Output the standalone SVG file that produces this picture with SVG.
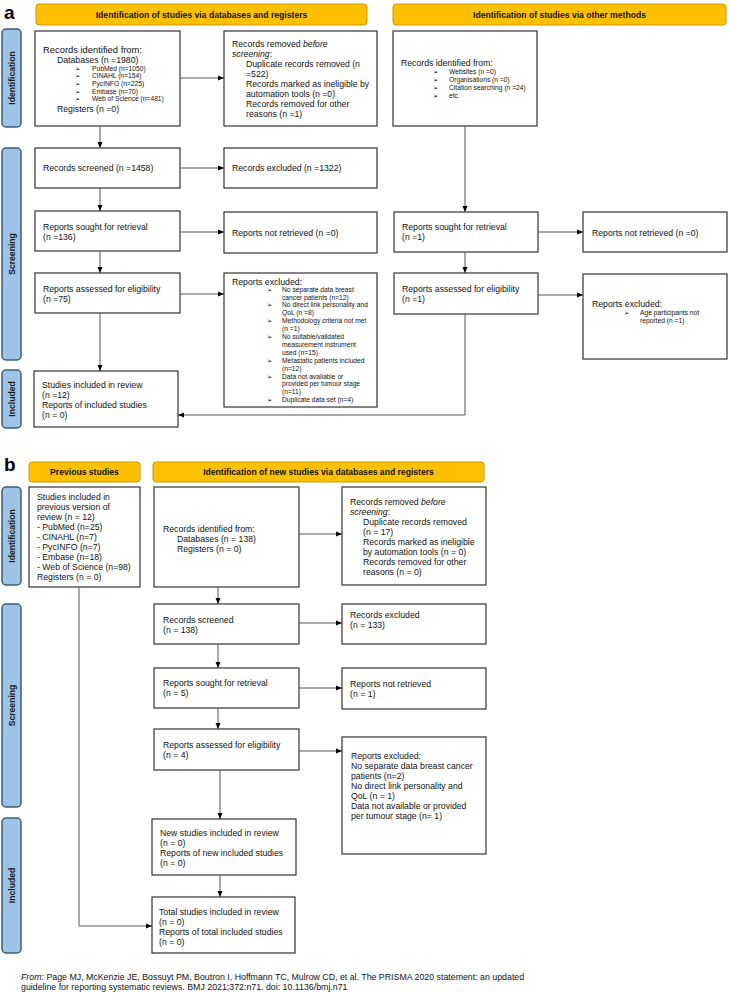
<svg xmlns="http://www.w3.org/2000/svg" width="729" height="993" viewBox="0 0 729 993">
<style>
.bg{fill:#fff}
.box{fill:#fff;stroke:#333;stroke-width:1.2}
.hdr{fill:#FFC000;stroke:#C99A00;stroke-width:1}
.side{fill:#9DC3E6;stroke:#3E5C7A;stroke-width:1.5}
text{font-family:"Liberation Sans",Arial,sans-serif;font-size:8.7px;fill:#111}
.s{font-size:6.7px}
.b{font-family:"DejaVu Sans","Liberation Sans",sans-serif;font-size:6.5px}
.h{font-weight:bold;font-size:8.6px;text-anchor:middle}
.v{font-weight:bold;font-size:8.6px;text-anchor:middle;fill:#1a1a1a}
.big{font-weight:bold;font-size:19px;fill:#000}
.i{font-style:italic}
.f{font-size:8.8px}
.c{stroke:#555;stroke-width:1;fill:none}
</style>
<defs>
<marker id="ar" markerWidth="6" markerHeight="6" refX="6" refY="3" orient="auto" markerUnits="userSpaceOnUse">
<path d="M0,0.5 L6,3 L0,5.5 z" fill="#000"/>
</marker>
</defs>
<rect class="bg" x="0" y="0" width="729" height="993"/>

<!-- Part a -->
<text class="big" x="4" y="19">a</text>
<g id="hdr-a1"><rect class="hdr" x="36" y="4" width="331" height="21" rx="3"/><text class="h" x="201.5" y="17.5">Identification of studies via databases and registers</text></g>
<g id="hdr-a2"><rect class="hdr" x="393" y="4" width="333" height="21" rx="3"/><text class="h" x="559.5" y="17.5">Identification of studies via other methods</text></g>

<g id="side-a-ident"><rect class="side" x="2" y="29" width="19" height="98" rx="4"/><text class="v" transform="translate(14.5,78) rotate(-90)">Identification</text></g>
<g id="side-a-screen"><rect class="side" x="2" y="148" width="19" height="212" rx="4"/><text class="v" transform="translate(14.5,254) rotate(-90)">Screening</text></g>
<g id="side-a-incl"><rect class="side" x="2" y="370" width="19" height="58" rx="4"/><text class="v" transform="translate(14.5,399) rotate(-90)">Included</text></g>

<g id="a-identified">
<rect class="box" x="35" y="31" width="145" height="95"/>
<text x="43" y="53" style="font-size:9.4px">Records identified from:</text>
<text x="57" y="63">Databases (n =1980)</text>
<text class="b" x="75" y="70.6">➢</text><text class="s" x="92" y="70.6">PubMed (n=1050)</text>
<text class="b" x="75" y="78.3">➢</text><text class="s" x="92" y="78.3">CINAHL (n=154)</text>
<text class="b" x="75" y="86">➢</text><text class="s" x="92" y="86">PycINFO (n=225)</text>
<text class="b" x="75" y="93.7">➢</text><text class="s" x="92" y="93.7">Embase (n=70)</text>
<text class="b" x="75" y="101.4">➢</text><text class="s" x="92" y="101.4">Web of Science (n=481)</text>
<text x="57" y="111.5">Registers (n =0)</text>
</g>
<g id="a-removed">
<rect class="box" x="224" y="31" width="153" height="95"/>
<text x="232" y="47">Records removed <tspan class="i">before</tspan></text>
<text x="232" y="57"><tspan class="i">screening</tspan>:</text>
<text x="246" y="67">Duplicate records removed (n</text>
<text x="246" y="77">=522)</text>
<text x="246" y="87">Records marked as ineligible by</text>
<text x="246" y="97">automation tools (n =0)</text>
<text x="246" y="107">Records removed for other</text>
<text x="246" y="117">reasons (n =1)</text>
</g>
<g id="a-screened"><rect class="box" x="35" y="148" width="145" height="40"/><text x="43" y="171">Records screened (n =1458)</text></g>
<g id="a-excluded"><rect class="box" x="224" y="148" width="153" height="40"/><text x="232" y="171">Records excluded (n =1322)</text></g>
<g id="a-sought"><rect class="box" x="35" y="211" width="145" height="40"/><text x="43" y="230">Reports sought for retrieval</text><text x="43" y="240">(n =136)</text></g>
<g id="a-notretrieved"><rect class="box" x="224" y="212" width="153" height="41"/><text x="232" y="236">Reports not retrieved (n =0)</text></g>
<g id="a-assessed"><rect class="box" x="35" y="273" width="145" height="40"/><text x="43" y="292">Reports assessed for eligibility</text><text x="43" y="302">(n =75)</text></g>
<g id="a-repexcluded">
<rect class="box" x="224" y="273" width="153" height="134"/>
<text x="232" y="285">Reports excluded:</text>
<text class="b" x="267" y="291.6">➢</text><text class="s" x="282" y="291.6">No separate data breast</text>
<text class="s" x="282" y="299.5">cancer patients (n=12)</text>
<text class="b" x="267" y="307.4">➢</text><text class="s" x="282" y="307.4">No direct link personality and</text>
<text class="s" x="282" y="315.3">QoL (n =8)</text>
<text class="b" x="267" y="323.2">➢</text><text class="s" x="282" y="323.2">Methodology criteria not met</text>
<text class="s" x="282" y="331.1">(n =1)</text>
<text class="b" x="267" y="339">➢</text><text class="s" x="282" y="339">No suitable/validated</text>
<text class="s" x="282" y="346.9">measurement instrument</text>
<text class="s" x="282" y="354.8">used (n=15)</text>
<text class="b" x="267" y="362.7">➢</text><text class="s" x="282" y="362.7">Metastatic patients included</text>
<text class="s" x="282" y="370.6">(n=12)</text>
<text class="b" x="267" y="378.5">➢</text><text class="s" x="282" y="378.5">Data not available or</text>
<text class="s" x="282" y="386.4">provided per tumour stage</text>
<text class="s" x="282" y="394.3">(n=11)</text>
<text class="b" x="267" y="402.2">➢</text><text class="s" x="282" y="402.2">Duplicate data set (n=4)</text>
</g>
<g id="a-included"><rect class="box" x="34" y="371" width="144" height="56"/>
<text x="42" y="387.5">Studies included in review</text><text x="42" y="397.5">(n =12)</text><text x="42" y="407.5">Reports of included studies</text><text x="42" y="417.5">(n = 0)</text></g>

<g id="a-other-identified">
<rect class="box" x="393" y="31" width="144" height="95"/>
<text x="401" y="66">Records identified from:</text>
<text class="b" x="433" y="74.3">➢</text><text class="s" x="449" y="74.3">Websites (n =0)</text>
<text class="b" x="433" y="82.3">➢</text><text class="s" x="449" y="82.3">Organisations (n =0)</text>
<text class="b" x="433" y="90.3">➢</text><text class="s" x="449" y="90.3">Citation searching (n =24)</text>
<text class="b" x="433" y="98.3">➢</text><text class="s" x="449" y="98.3">etc.</text>
</g>
<g id="a-other-sought"><rect class="box" x="394" y="212" width="144" height="40"/><text x="402" y="230">Reports sought for retrieval</text><text x="402" y="240">(n =1)</text></g>
<g id="a-other-notretrieved"><rect class="box" x="583" y="212" width="144" height="40"/><text x="592" y="236">Reports not retrieved (n =0)</text></g>
<g id="a-other-assessed"><rect class="box" x="394" y="273" width="144" height="41"/><text x="402" y="292">Reports assessed for eligibility</text><text x="402" y="302">(n =1)</text></g>
<g id="a-other-excluded"><rect class="box" x="583" y="274" width="144" height="85"/>
<text x="592" y="307">Reports excluded:</text>
<text class="b" x="624" y="315.3">➢</text><text class="s" x="640" y="315.3">Age participants not</text>
<text class="s" x="640" y="323.3">reported (n =1)</text></g>

<!-- Part b -->
<text class="big" x="4" y="471">b</text>
<g id="hdr-b1"><rect class="hdr" x="29" y="462" width="111" height="20" rx="3"/><text class="h" x="84.5" y="475">Previous studies</text></g>
<g id="hdr-b2"><rect class="hdr" x="153" y="462" width="331" height="20" rx="3"/><text class="h" x="318.5" y="475">Identification of new studies via databases and registers</text></g>

<g id="side-b-ident"><rect class="side" x="2" y="487" width="19" height="98" rx="4"/><text class="v" transform="translate(14.5,536) rotate(-90)">Identification</text></g>
<g id="side-b-screen"><rect class="side" x="2" y="604" width="19" height="203" rx="4"/><text class="v" transform="translate(14.5,705.5) rotate(-90)">Screening</text></g>
<g id="side-b-incl"><rect class="side" x="2" y="818" width="19" height="135" rx="4"/><text class="v" transform="translate(14.5,885.5) rotate(-90)">Included</text></g>

<g id="b-previous"><rect class="box" x="29" y="487" width="111" height="100"/>
<text x="37" y="500">Studies included in</text>
<text x="37" y="510">previous version of</text>
<text x="37" y="520">review (n = 12)</text>
<text x="37" y="530">- PubMed (n=25)</text>
<text x="37" y="540">- CINAHL (n=7)</text>
<text x="37" y="550">- PycINFO (n=7)</text>
<text x="37" y="560">- Embase (n=18)</text>
<text x="37" y="570">- Web of Science (n=98)</text>
<text x="37" y="580">Registers (n = 0)</text></g>
<g id="b-identified"><rect class="box" x="154" y="487" width="145" height="100"/>
<text x="163" y="532">Records identified from:</text>
<text x="177" y="542">Databases (n = 138)</text>
<text x="177" y="552">Registers (n = 0)</text></g>
<g id="b-removed"><rect class="box" x="342" y="487" width="144" height="98"/>
<text x="350" y="505">Records removed <tspan class="i">before</tspan></text>
<text x="350" y="515"><tspan class="i">screening</tspan>:</text>
<text x="363" y="525">Duplicate records removed</text>
<text x="363" y="535">(n = 17)</text>
<text x="363" y="545">Records marked as ineligible</text>
<text x="363" y="555">by automation tools (n = 0)</text>
<text x="363" y="565">Records removed for other</text>
<text x="363" y="575">reasons (n = 0)</text></g>
<g id="b-screened"><rect class="box" x="154" y="604" width="145" height="40"/><text x="163" y="623">Records screened</text><text x="163" y="633">(n = 138)</text></g>
<g id="b-excluded"><rect class="box" x="342" y="604" width="144" height="40"/><text x="350" y="618">Records excluded</text><text x="350" y="628">(n = 133)</text></g>
<g id="b-sought"><rect class="box" x="154" y="668" width="145" height="40"/><text x="163" y="686">Reports sought for retrieval</text><text x="163" y="696">(n = 5)</text></g>
<g id="b-notretrieved"><rect class="box" x="342" y="668" width="144" height="41"/><text x="350" y="687">Reports not retrieved</text><text x="350" y="697">(n = 1)</text></g>
<g id="b-assessed"><rect class="box" x="154" y="729" width="145" height="41"/><text x="163" y="748">Reports assessed for eligibility</text><text x="163" y="758">(n = 4)</text></g>
<g id="b-repexcluded"><rect class="box" x="342" y="737" width="144" height="117"/>
<text x="351" y="759">Reports excluded:</text>
<text x="351" y="769">No separate data breast cancer</text>
<text x="351" y="779">patients (n=2)</text>
<text x="351" y="789">No direct link personality and</text>
<text x="351" y="799">QoL (n = 1)</text>
<text x="351" y="809">Data not available or provided</text>
<text x="351" y="819">per tumour stage (n= 1)</text></g>
<g id="b-new"><rect class="box" x="152" y="819" width="144" height="56"/>
<text x="160" y="836">New studies included in review</text><text x="160" y="846">(n = 0)</text><text x="160" y="856">Reports of new included studies</text><text x="160" y="866">(n = 0)</text></g>
<g id="b-total"><rect class="box" x="152" y="897" width="143" height="56"/>
<text x="159" y="915">Total studies included in review</text><text x="159" y="925">(n = 0)</text><text x="159" y="935">Reports of total included studies</text><text x="159" y="945">(n = 0)</text></g>

<g id="connectors">
<path class="c" d="M180,78 H224" marker-end="url(#ar)"/>
<path class="c" d="M100,126 V148" marker-end="url(#ar)"/>
<path class="c" d="M180,168 H224" marker-end="url(#ar)"/>
<path class="c" d="M100,188 V211" marker-end="url(#ar)"/>
<path class="c" d="M180,232 H224" marker-end="url(#ar)"/>
<path class="c" d="M100,251 V273" marker-end="url(#ar)"/>
<path class="c" d="M180,294 H224" marker-end="url(#ar)"/>
<path class="c" d="M100,313 V371" marker-end="url(#ar)"/>
<path class="c" d="M465,126 V212" marker-end="url(#ar)"/>
<path class="c" d="M538,232 H583" marker-end="url(#ar)"/>
<path class="c" d="M465,252 V273" marker-end="url(#ar)"/>
<path class="c" d="M538,295 H583" marker-end="url(#ar)"/>
<path class="c" d="M465,314 V415 H178" marker-end="url(#ar)"/>
<path class="c" d="M299,534 H342" marker-end="url(#ar)"/>
<path class="c" d="M218,587 V604" marker-end="url(#ar)"/>
<path class="c" d="M299,623 H342" marker-end="url(#ar)"/>
<path class="c" d="M218,644 V668" marker-end="url(#ar)"/>
<path class="c" d="M299,688 H342" marker-end="url(#ar)"/>
<path class="c" d="M218,708 V729" marker-end="url(#ar)"/>
<path class="c" d="M299,751 H342" marker-end="url(#ar)"/>
<path class="c" d="M220,770 V819" marker-end="url(#ar)"/>
<path class="c" d="M220,875 V897" marker-end="url(#ar)"/>
<path class="c" d="M79,587 V926 H152" marker-end="url(#ar)"/>
</g>

<g id="footer">
<text class="f" x="21" y="980"><tspan class="i">From:</tspan>  Page MJ, McKenzie JE, Bossuyt PM, Boutron I, Hoffmann TC, Mulrow CD, et al. The PRISMA 2020 statement: an updated</text>
<text class="f" x="21" y="990">guideline for reporting systematic reviews. BMJ 2021;372:n71. doi: 10.1136/bmj.n71</text>
</g>
</svg>
